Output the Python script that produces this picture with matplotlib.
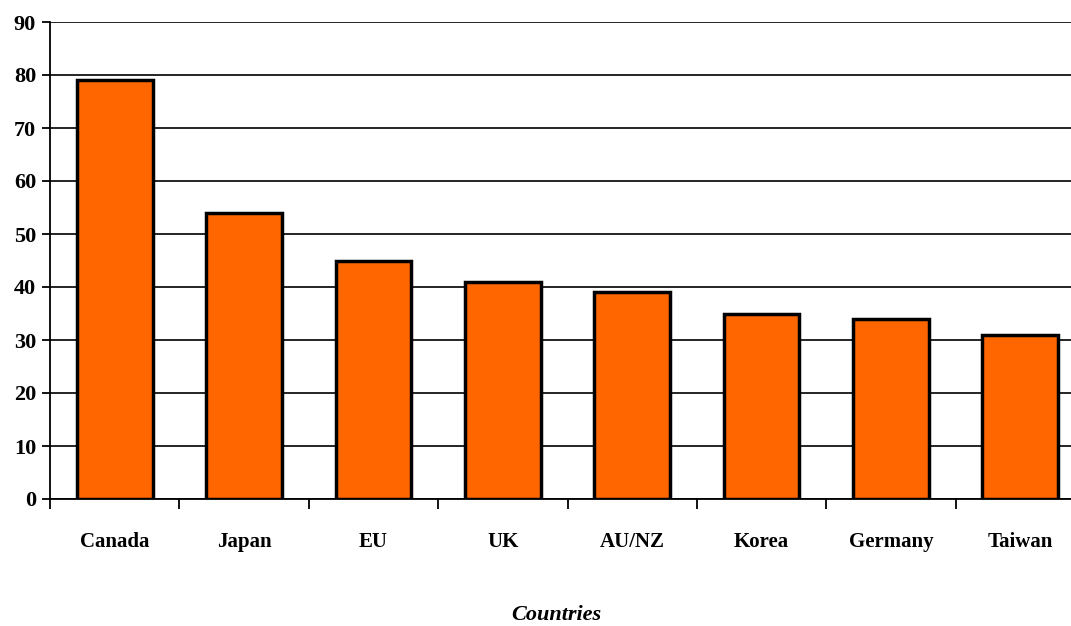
import matplotlib.pyplot as plt
import numpy as np

countries = ['Canada', 'Japan', 'EU', 'UK', 'AU/NZ', 'Korea', 'Germany', 'Taiwan']
values = [79, 54, 45, 41, 39, 35, 34, 31]
y_ticks = [0, 10, 20, 30, 40, 50, 60, 70, 80, 90]

plt.rcParams['font.family'] = ['Liberation Serif', 'DejaVu Serif']
plt.rcParams['font.weight'] = 'bold'

fig = plt.figure(figsize=(10.71, 6.26), dpi=100)
ax = fig.add_axes([50 / 1071, 1 - 499 / 626, 1035 / 1071, 477 / 626])

x = np.arange(len(countries))
ax.bar(x, values, width=0.585, color='#FF6600', edgecolor='black', linewidth=2.5, zorder=3)

ax.set_xlim(-0.5, len(countries) - 0.5)
ax.set_ylim(0, 90)
ax.set_yticks(y_ticks)
ax.yaxis.grid(True, color='black', linewidth=1.2, zorder=0)
ax.set_axisbelow(True)

# category labels without ticks, separator ticks between categories
ax.set_xticks(x)
ax.set_xticklabels(countries, fontsize=15, fontweight='bold')
ax.tick_params(axis='x', which='major', length=0, pad=24)
ax.set_xticks(np.arange(len(countries) + 1) - 0.5, minor=True)
ax.tick_params(axis='x', which='minor', length=7, width=1.3, direction='out')
ax.tick_params(axis='y', length=6, width=1.3, labelsize=16, pad=4)
for lbl in ax.get_yticklabels():
    lbl.set_fontweight('bold')

for side in ['top', 'right']:
    ax.spines[side].set_visible(False)
ax.spines['left'].set_linewidth(1.3)
ax.spines['bottom'].set_linewidth(1.3)

fig.text(556 / 1071, 1 - 615 / 626, 'Countries', ha='center', va='center',
         fontsize=16, fontweight='bold', fontstyle='italic')

fig.savefig('out.png', dpi=100)
